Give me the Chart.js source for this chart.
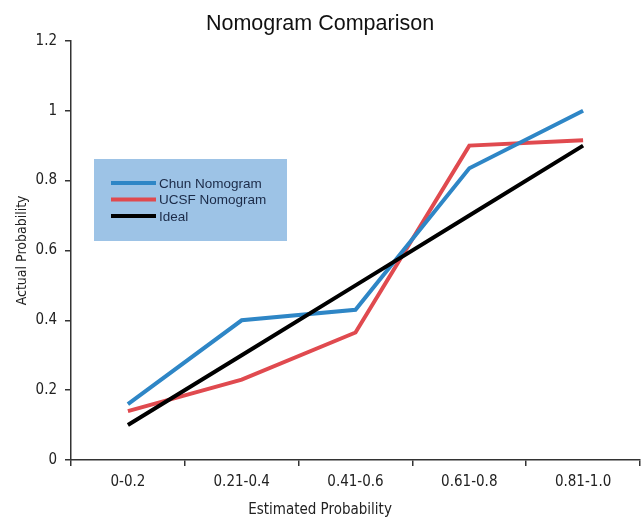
<!DOCTYPE html>
<html>
<head>
<meta charset="utf-8">
<script src="https://cdn.jsdelivr.net/npm/chart.js@4/dist/chart.umd.min.js"></script>
<style>
  html, body { margin: 0; padding: 0; background: #fff; }
  #wrap { width: 641px; height: 519px; }
</style>
</head>
<body>
<div id="wrap"><canvas id="nomogramChart" width="641" height="519"></canvas></div>
<script>
// categories + series
const categories = ['0-0.2', '0.21-0.4', '0.41-0.6', '0.61-0.8', '0.81-1.0'];
const chunValues = [0.16, 0.40, 0.43, 0.835, 1.0];
const ucsfValues = [0.14, 0.23, 0.365, 0.90, 0.915];
const idealValues = [0.10, 0.30, 0.50, 0.70, 0.90];
const yTicks = [0, 0.2, 0.4, 0.6, 0.8, 1, 1.2];

const narrow = '"Liberation Sans Narrow", "DejaVu Sans Condensed", "Roboto Condensed", sans-serif';

// legend drawn as a filled box inside the plot
const boxLegend = {
  id: 'boxLegend',
  afterDraw(chart) {
    const ctx = chart.ctx;
    ctx.save();
    ctx.fillStyle = '#9dc3e6';
    ctx.fillRect(94, 159, 193, 82);
    ctx.font = '13.5px "Liberation Sans", Arial, sans-serif';
    ctx.textBaseline = 'middle';
    chart.data.datasets.forEach((ds, i) => {
      const y = 183 + i * 16.5;
      ctx.strokeStyle = ds.borderColor;
      ctx.lineWidth = 4;
      ctx.beginPath();
      ctx.moveTo(111, y);
      ctx.lineTo(156, y);
      ctx.stroke();
      ctx.fillStyle = '#1b2a47';
      ctx.fillText(ds.label, 159, y + 1);
    });
    ctx.restore();
  }
};

new Chart(document.getElementById('nomogramChart').getContext('2d'), {
  type: 'line',
  data: {
    labels: categories,
    datasets: [
      { label: 'Chun Nomogram', data: chunValues, borderColor: '#2e86c6', borderWidth: 4, pointRadius: 0, tension: 0, order: 2 },
      { label: 'UCSF Nomogram', data: ucsfValues, borderColor: '#e04a4f', borderWidth: 4, pointRadius: 0, tension: 0, order: 3 },
      { label: 'Ideal', data: idealValues, borderColor: '#000000', borderWidth: 4, pointRadius: 0, tension: 0, order: 1 }
    ]
  },
  options: {
    responsive: false,
    animation: false,
    layout: { padding: { top: 0, right: 1, bottom: 0, left: 0 } },
    plugins: {
      legend: { display: false },
      tooltip: { enabled: false },
      title: {
        display: true,
        text: 'Nomogram Comparison',
        color: '#111',
        font: { family: '"Liberation Sans", Arial, sans-serif', size: 21.5, weight: 'normal' },
        padding: { top: 11, bottom: 4 }
      },
      subtitle: {
        display: true,
        position: 'bottom',
        text: 'Estimated Probability',
        color: '#222',
        font: { family: narrow, size: 15 },
        padding: { top: 4, bottom: 0 }
      }
    },
    scales: {
      x: {
        offset: true,
        border: { display: true, color: '#333', width: 1.5 },
        grid: { offset: true, drawOnChartArea: false, drawTicks: true, tickLength: 6, color: '#333', lineWidth: 1.5 },
        ticks: { color: '#222', font: { family: narrow, size: 15 }, padding: 7, maxRotation: 0 },
        afterFit(scale) { scale.height = 37; }
      },
      y: {
        min: 0,
        max: 1.2,
        afterBuildTicks(scale) { scale.ticks = yTicks.map(v => ({ value: v })); },
        border: { display: true, color: '#333', width: 1.5 },
        grid: { drawOnChartArea: false, drawTicks: true, tickLength: 6, color: '#333', lineWidth: 1.5 },
        ticks: {
          color: '#222',
          font: { family: narrow, size: 15 },
          padding: 8,
          callback: v => String(Number(v.toFixed(1)))
        },
        title: {
          display: true,
          text: 'Actual Probability',
          color: '#222',
          font: { family: narrow, size: 14 },
          padding: { top: 14, bottom: 0 }
        },
        afterFit(scale) { scale.width = 71; }
      }
    }
  },
  plugins: [boxLegend]
});
</script>
</body>
</html>
